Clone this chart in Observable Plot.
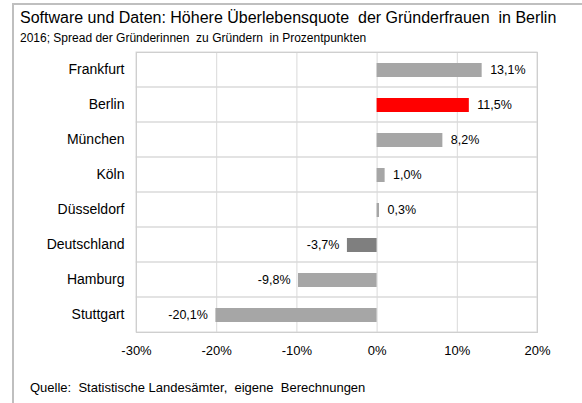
<!DOCTYPE html>
<html>
<head>
<meta charset="utf-8">
<script src="https://cdn.jsdelivr.net/npm/d3@7"></script>
<script src="https://cdn.jsdelivr.net/npm/@observablehq/plot@0.6"></script>
<style>
  html, body { margin: 0; padding: 0; background: #fff; }
  body { width: 582px; height: 403px; position: relative; overflow: hidden; font-family: "Liberation Sans", Arial, sans-serif; color: #000; }
  #box { position: absolute; left: 12px; top: 3px; width: 600px; height: 420px; border-left: 2px solid #bfbfbf; border-top: 2px solid #bfbfbf; }
  #title { position: absolute; left: 20px; top: 9px; font-size: 16px; white-space: pre; }
  #subtitle { position: absolute; left: 20px; top: 31px; font-size: 12px; white-space: pre; }
  #caption { position: absolute; left: 30px; top: 380px; font-size: 13px; white-space: pre; }
  #chart { position: absolute; left: 0; top: 0; }
</style>
</head>
<body>
<div id="box"></div>
<div id="chart"></div>
<div id="title">Software und Daten: Höhere Überlebensquote  der Gründerfrauen  in Berlin</div>
<div id="subtitle">2016; Spread der Gründerinnen  zu Gründern  in Prozentpunkten</div>
<div id="caption">Quelle:  Statistische Landesämter,  eigene  Berechnungen</div>
<script>
const cities = ["Frankfurt", "Berlin", "München", "Köln", "Düsseldorf", "Deutschland", "Hamburg", "Stuttgart"];
const values = [13.1, 11.5, 8.2, 1.0, 0.3, -3.7, -9.8, -20.1];
const barColors = ["#a6a6a6", "#ff0000", "#a6a6a6", "#a6a6a6", "#a6a6a6", "#7f7f7f", "#a6a6a6", "#a6a6a6"];
const xTicks = [-30, -20, -10, 0, 10, 20];

const data = cities.map((c, i) => ({city: c, value: values[i], color: barColors[i]}));
const fmt = v => v.toFixed(1).replace(".", ",") + "%";

const chart = Plot.plot({
  width: 582,
  height: 403,
  marginLeft: 136,
  marginRight: 45,
  marginTop: 52,
  marginBottom: 71,
  style: {fontFamily: "Liberation Sans, Arial, sans-serif", fontSize: "13px", color: "#000", background: "transparent"},
  x: {domain: [-30, 20], ticks: xTicks, tickFormat: d => d + "%", tickSize: 0, tickPadding: 13, label: null},
  y: {domain: cities, padding: 0, tickSize: 0, tickPadding: 12, label: null},
  marks: [
    Plot.ruleX(xTicks, {stroke: "#d9d9d9", strokeWidth: 1}),
    Plot.cell(cities, {y: d => d, fill: "none", stroke: "#d9d9d9", strokeWidth: 1}),
    Plot.barX(data, {x: "value", y: "city", fill: "color", insetTop: 11, insetBottom: 10}),
    Plot.text(data.filter(d => d.value >= 0), {x: "value", y: "city", text: d => fmt(d.value), textAnchor: "start", dx: 8, fill: "#000", fontSize: 12.5}),
    Plot.text(data.filter(d => d.value < 0), {x: "value", y: "city", text: d => fmt(d.value), textAnchor: "end", dx: -8, fill: "#000", fontSize: 12.5}),
    Plot.frame({stroke: "#cfcfcf"}),
    Plot.axisY({tickSize: 0, tickPadding: 12, fontSize: 14, label: null})
  ]
});
document.getElementById("chart").appendChild(chart);
</script>
</body>
</html>
